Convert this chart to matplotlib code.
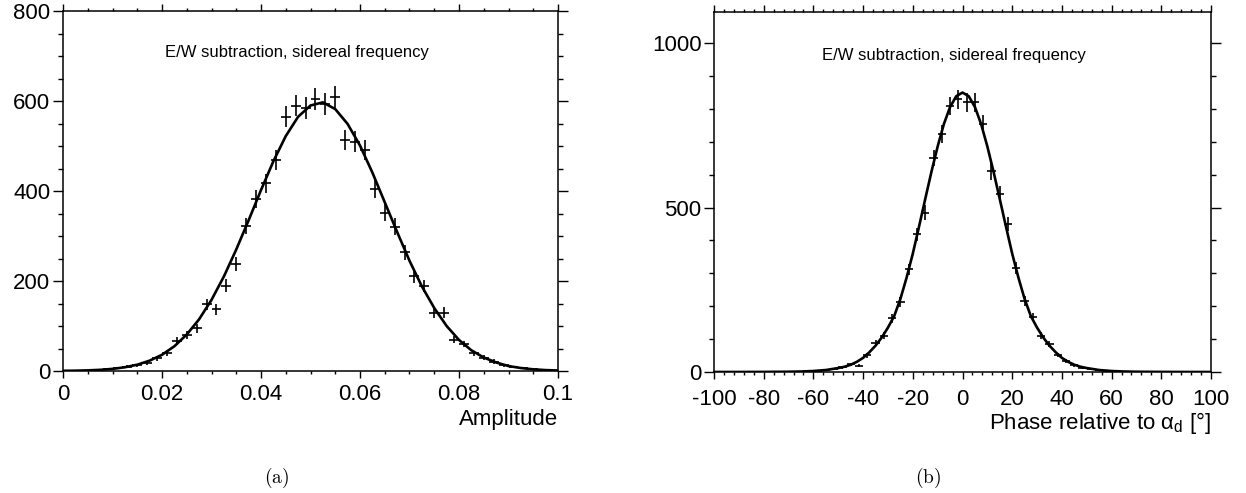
import numpy as np
import matplotlib.pyplot as plt
from matplotlib.ticker import MultipleLocator, FixedLocator, FixedFormatter

plt.rcParams['font.family'] = ['Liberation Sans', 'DejaVu Sans']
plt.rcParams['mathtext.fontset'] = 'custom'
plt.rcParams['mathtext.rm'] = 'Liberation Sans'
plt.rcParams['mathtext.it'] = 'Liberation Sans:italic'
plt.rcParams['axes.unicode_minus'] = False

# (a) amplitude histogram, bins of 0.002
amp_x = [0.001, 0.003, 0.005, 0.007, 0.009, 0.011, 0.013, 0.015, 0.017, 0.019,
         0.021, 0.023, 0.025, 0.027, 0.029, 0.031, 0.033, 0.035, 0.037, 0.039,
         0.041, 0.043, 0.045, 0.047, 0.049, 0.051, 0.053, 0.055, 0.057, 0.059,
         0.061, 0.063, 0.065, 0.067, 0.069, 0.071, 0.073, 0.075, 0.077, 0.079,
         0.081, 0.083, 0.085, 0.087, 0.089, 0.091, 0.093, 0.095, 0.097, 0.099]
amp_n = [0, 1, 1, 3, 4, 6, 10, 13, 18, 28,
         39, 67, 80, 95, 148, 137, 190, 238, 322, 382,
         417, 469, 565, 590, 585, 604, 593, 608, 513, 510,
         491, 404, 352, 321, 264, 211, 189, 130, 130, 70,
         60, 39, 30, 21, 13, 9, 6, 4, 2, 1]
amp_fit_x = [0, 0.0025, 0.005, 0.0075, 0.01, 0.0125, 0.015, 0.0175, 0.02, 0.0225,
             0.025, 0.0275, 0.03, 0.0325, 0.035, 0.0375, 0.04, 0.0425, 0.045, 0.0475,
             0.05, 0.0525, 0.055, 0.0575, 0.06, 0.0625, 0.065, 0.0675, 0.07, 0.0725,
             0.075, 0.0775, 0.08, 0.0825, 0.085, 0.0875, 0.09, 0.0925, 0.095, 0.0975, 0.1]
amp_fit_y = [0.4, 0.7, 1.4, 2.6, 4.7, 8.3, 14, 23, 36, 55,
             81, 115, 158, 210, 270, 335, 402, 466, 522, 565,
             590, 597, 582, 549, 501, 441, 375, 309, 245, 188,
             140, 100, 69, 46, 30, 19, 11, 6.6, 3.7, 2.0, 1.1]
amp_ticks = [0, 0.02, 0.04, 0.06, 0.08, 0.1]
amp_labels = ['0', '0.02', '0.04', '0.06', '0.08', '0.1']

# (b) phase histogram, 60 bins over [-100, 100]
ph_x = [-98.33, -95.0, -91.67, -88.33, -85.0, -81.67, -78.33, -75.0, -71.67, -68.33,
        -65.0, -61.67, -58.33, -55.0, -51.67, -48.33, -45.0, -41.67, -38.33, -35.0,
        -31.67, -28.33, -25.0, -21.67, -18.33, -15.0, -11.67, -8.33, -5.0, -1.67,
        1.67, 5.0, 8.33, 11.67, 15.0, 18.33, 21.67, 25.0, 28.33, 31.67,
        35.0, 38.33, 41.67, 45.0, 48.33, 51.67, 55.0, 58.33, 61.67, 65.0,
        68.33, 71.67, 75.0, 78.33, 81.67, 85.0, 88.33, 91.67, 95.0, 98.33]
ph_n = [0, 0, 0, 0, 0, 0, 0, 1, 0, 1,
        1, 2, 3, 5, 8, 14, 23, 19, 51, 89,
        110, 163, 213, 312, 419, 485, 651, 723, 809, 830,
        820, 820, 753, 610, 541, 451, 317, 216, 167, 110,
        84, 52, 33, 20, 12, 8, 5, 3, 2, 1,
        1, 0, 1, 0, 0, 0, 0, 0, 0, 0]
ph_fit_x = [-100, -90, -80, -70, -65, -60, -55, -50, -47.5, -45, -42.5, -40, -37.5,
            -35, -32.5, -30, -27.5, -25, -22.5, -20, -17.5, -15, -12.5, -10, -7.5,
            -5, -2.5, 0, 2.5, 5, 7.5, 10, 12.5, 15, 17.5, 20, 22.5, 25, 27.5, 30,
            32.5, 35, 37.5, 40, 42.5, 45, 47.5, 50, 55, 60, 65, 70, 80, 90, 100]
ph_fit_y = [0.05, 0.1, 0.3, 0.8, 1.5, 3, 6, 12, 16, 22, 31, 43, 60,
            80, 105, 135, 170, 222, 287, 360, 442, 526, 609, 686, 754,
            806, 839, 850, 839, 806, 754, 686, 609, 526, 442, 360, 287, 222, 170, 135,
            105, 80, 60, 43, 31, 22, 16, 12, 6, 3, 1.5, 0.8, 0.3, 0.1, 0.05]

note = 'E/W subtraction, sidereal frequency'

fig = plt.figure(figsize=(12.46, 4.93), dpi=100)
ax1 = fig.add_axes([63 / 1246, 122 / 493, 495 / 1246, 360 / 493])
ax2 = fig.add_axes([714 / 1246, 121 / 493, 497 / 1246, 360 / 493])

# left panel
ax1.errorbar(amp_x, amp_n, yerr=np.sqrt(amp_n), xerr=0.001, fmt='none',
             ecolor='black', elinewidth=1.2, capsize=0)
ax1.plot(amp_fit_x, amp_fit_y, color='black', lw=1.9)
ax1.set_xlim(0, 0.1)
ax1.set_ylim(0, 800)
ax1.xaxis.set_major_locator(FixedLocator(amp_ticks))
ax1.xaxis.set_major_formatter(FixedFormatter(amp_labels))
ax1.xaxis.set_minor_locator(MultipleLocator(0.005))
ax1.yaxis.set_major_locator(MultipleLocator(200))
ax1.yaxis.set_minor_locator(MultipleLocator(50))
ax1.set_xlabel('Amplitude', loc='right', fontsize=16, labelpad=3)
ax1.text(0.473, 0.886, note, transform=ax1.transAxes, ha='center', va='center', fontsize=12)

# right panel
ax2.errorbar(ph_x, ph_n, yerr=np.sqrt(ph_n), xerr=100 / 60, fmt='none',
             ecolor='black', elinewidth=1.2, capsize=0)
ax2.plot(ph_fit_x, ph_fit_y, color='black', lw=1.9)
ax2.set_xlim(-100, 100)
ax2.set_ylim(0, 1095)
ax2.xaxis.set_major_locator(MultipleLocator(20))
ax2.xaxis.set_minor_locator(MultipleLocator(4))
ax2.yaxis.set_major_locator(MultipleLocator(500))
ax2.yaxis.set_minor_locator(MultipleLocator(100))
ax2.set_xlabel(r'Phase relative to $\mathrm{\alpha_d}$ [°]', loc='right', fontsize=16, labelpad=0.5)
ax2.text(0.483, 0.88, note, transform=ax2.transAxes, ha='center', va='center', fontsize=12)

for ax, xpad in ((ax1, 4), (ax2, 7)):
    for s in ax.spines.values():
        s.set_linewidth(1.1)
    ax.tick_params(which='both', direction='out', top=True, right=True,
                   labelsize=16, width=1.0)
    ax.tick_params(axis='x', which='major', length=5, pad=xpad)
    ax.tick_params(axis='x', which='minor', length=2.5)
    ax.tick_params(axis='y', which='major', length=7, pad=2)
    ax.tick_params(axis='y', which='minor', length=3.5)

fig.text(277 / 1246, 1 - 478 / 493, r'$\mathrm{(a)}$', math_fontfamily='cm',
         ha='center', va='center', fontsize=14)
fig.text(928 / 1246, 1 - 478 / 493, r'$\mathrm{(b)}$', math_fontfamily='cm',
         ha='center', va='center', fontsize=14)

fig.savefig('out.png', dpi=100, facecolor='white')
